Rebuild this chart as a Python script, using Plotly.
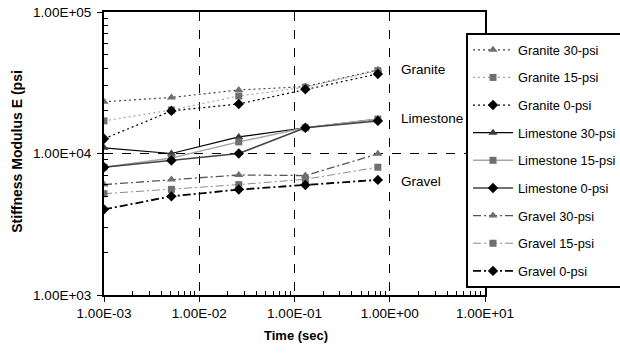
import plotly.graph_objects as go

# ---- data ----
time_sec = [0.001, 0.0051, 0.026, 0.13, 0.75]

granite_30 = [23200, 24900, 28100, 29700, 39000]
granite_15 = [17000, 20300, 25500, 29400, 38500]
granite_0 = [12700, 20000, 22400, 28400, 36500]

limestone_30 = [10960, 10000, 13100, 15200, 17500]
limestone_15 = [8000, 9300, 12080, 15200, 17500]
limestone_0 = [8000, 8920, 10000, 15200, 17000]

gravel_30 = [6030, 6540, 7050, 6980, 9940]
gravel_15 = [5200, 5580, 6030, 6570, 8000]
gravel_0 = [4030, 4980, 5560, 5990, 6510]

x_tickvals = [1e-3, 1e-2, 1e-1, 1e0, 1e1]
x_ticktext = ["1.00E-03", "1.00E-02", "1.00E-01", "1.00E+00", "1.00E+01"]
y_tickvals = [1e3, 1e4, 1e5]
y_ticktext = ["1.00E+03", "1.00E+04", "1.00E+05"]

group_labels = ["Granite", "Limestone", "Gravel"]

FONT = "Liberation Sans, Arial, sans-serif"
GRAY = "#6f6f6f"
LIGHT = "#a6a6a6"
DOT = "2px,3px"
DASHDOT = "8px,3px,2px,3px"

series = [
    ("Granite 30-psi", granite_30, dict(color="#444444", width=1.2, dash=DOT), dict(symbol="triangle-up", color=GRAY, size=8)),
    ("Granite 15-psi", granite_15, dict(color=LIGHT, width=1.2, dash=DOT), dict(symbol="square", color=GRAY, size=7)),
    ("Granite 0-psi", granite_0, dict(color="black", width=1.2, dash=DOT), dict(symbol="diamond", color="black", size=8)),
    ("Limestone 30-psi", limestone_30, dict(color="black", width=1.2), dict(symbol="triangle-up", color="#3a3a3a", size=8)),
    ("Limestone 15-psi", limestone_15, dict(color=LIGHT, width=1.5), dict(symbol="square", color=GRAY, size=7)),
    ("Limestone 0-psi", limestone_0, dict(color="#444444", width=1.5), dict(symbol="diamond", color="black", size=8)),
    ("Gravel 30-psi", gravel_30, dict(color="#555555", width=1.3, dash=DASHDOT), dict(symbol="triangle-up", color=GRAY, size=8)),
    ("Gravel 15-psi", gravel_15, dict(color="#8a8a8a", width=1.0, dash=DASHDOT), dict(symbol="square", color=GRAY, size=7)),
    ("Gravel 0-psi", gravel_0, dict(color="black", width=1.8, dash=DASHDOT), dict(symbol="diamond", color="black", size=8)),
]

fig = go.Figure()
for i, (name, vals, line, marker) in enumerate(series):
    fig.add_trace(go.Scatter(
        x=time_sec, y=vals, name=name, mode="lines+markers",
        line=line, marker=marker, legendgroup=f"g{i}",
    ))

# The page's default body margin is removed by the post_script below,
# so the figure fills the 620x356 window exactly.
W, H = 620, 356
PX0, PX1, PY0, PY1 = 104, 485, 12, 295.5   # plot area in window pixels
L, R, T, B = PX0, W - PX1, PY0, H - PY1
PW, PH = PX1 - PX0, PY1 - PY0

def px(xw):
    return (xw - PX0) / PW

def py(yw):
    return (PY1 - yw) / PH

fig.update_layout(
    width=W, height=H,
    margin=dict(l=L, r=R, t=T, b=B, autoexpand=False),
    paper_bgcolor="white", plot_bgcolor="white",
    font=dict(family=FONT, size=13, color="black"),
    showlegend=True,
    legend=dict(
        x=px(466), y=py(33), xanchor="left", yanchor="top",
        bgcolor="white", bordercolor="black", borderwidth=2,
        font=dict(family=FONT, size=12.8, color="black"),
        tracegroupgap=8, traceorder="grouped", itemwidth=40,
        entrywidth=120, entrywidthmode="pixels",
    ),
)

def minor_vals(lo, hi):
    return [k * 10.0 ** d for d in range(lo, hi) for k in range(2, 10)]

axis_common = dict(
    type="log", automargin=False,
    showline=True, linecolor="black", linewidth=2, mirror=True,
    ticks="outside", ticklen=5, tickcolor="black", tickwidth=1,
    showgrid=True, gridcolor="black", gridwidth=1, griddash="dash",
    zeroline=False, ticklabeloverflow="allow",
    tickfont=dict(family=FONT, size=13.5, color="black"),
)

fig.update_xaxes(
    **axis_common,
    range=[-3, 1], tickmode="array", tickvals=x_tickvals, ticktext=x_ticktext,
    minor=dict(tickmode="array", tickvals=minor_vals(-3, 1), ticks="inside",
               ticklen=4, tickcolor="black", tickwidth=1, showgrid=False),
)
fig.update_yaxes(
    **axis_common,
    range=[3, 5], tickmode="array", tickvals=y_tickvals, ticktext=y_ticktext,
    ticklabelstandoff=3,
    minor=dict(tickmode="array", tickvals=minor_vals(3, 5), ticks="inside",
               ticklen=4, tickcolor="black", tickwidth=1, showgrid=False),
)

# axis titles
fig.add_annotation(
    xref="paper", yref="paper", x=px(17), y=py(152),
    text="<b>Stiffness Modulus E (psi</b>", textangle=-90, showarrow=False,
    xanchor="center", yanchor="middle", font=dict(family=FONT, size=14, color="black"),
)
fig.add_annotation(
    xref="paper", yref="paper", x=px(296), y=py(336),
    text="<b>Time (sec)</b>", showarrow=False,
    xanchor="center", yanchor="middle", font=dict(family=FONT, size=13, color="black"),
)

label_py = [70, 119, 181.7]
for text, yw in zip(group_labels, label_py):
    fig.add_annotation(
        xref="paper", yref="paper", x=px(399), y=py(yw),
        xanchor="left", yanchor="middle", showarrow=False,
        text=text, font=dict(family=FONT, size=13.5, color="black"),
    )

fig.write_html(
    "out.html",
    config=dict(displayModeBar=False),
    post_script="document.body.style.margin='0';document.body.style.padding='0';",
)
